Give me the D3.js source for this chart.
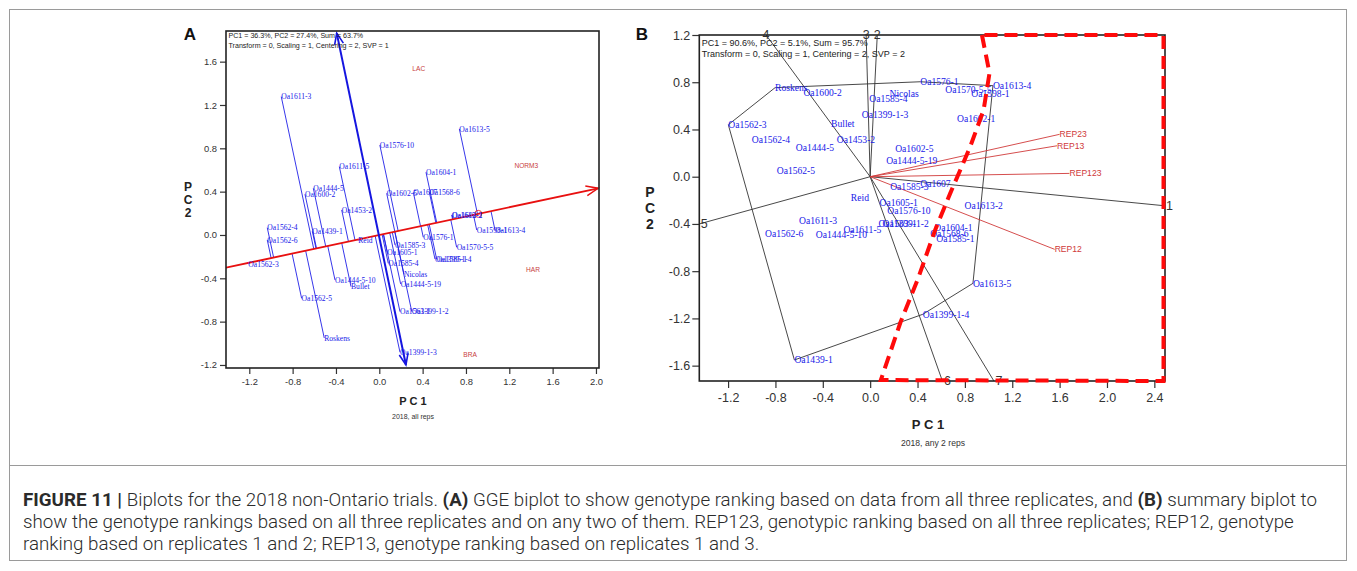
<!DOCTYPE html>
<html><head><meta charset="utf-8">
<script src="https://cdn.jsdelivr.net/npm/d3@7"></script>
<style>body{margin:0;background:#fff}svg{display:block}</style>
</head><body>
<svg id="c" width="1357" height="571"></svg>
<script>
// ================= DATA =================
// Panel A (GGE biplot, all reps)
const ticksA_x = [-1.2,-0.8,-0.4,0.0,0.4,0.8,1.2,1.6,2.0];
const ticksA_y = [-1.2,-0.8,-0.4,0.0,0.4,0.8,1.2,1.6];
const genoA_names = ["Oa1611-3","Oa1611-5","Oa1444-5","Oa1600-2","Oa1576-10","Oa1613-5","Oa1604-1","Oa1602-5","Oa1607","Oa1568-6",
  "Oa1453-2","Oa1562-4","Oa1562-6","Oa1439-1","Reid","Oa1562-3","Oa1444-5-10","Bullet","Oa1562-5","Roskens",
  "Oa1613-2","Oa1602-1","Oa1598-1","Oa1613-4","Oa1576-1","Oa1570-5-5","Oa1399-1-4","Oa1585-1","Oa1585-3","Oa1605-1",
  "Oa1585-4","Nicolas","Oa1444-5-19","Oa1399-1-2","Oa1563-1","Oa1399-1-3"];
const genoA_x = [-0.905,-0.369,-0.609,-0.686,0.005,0.739,0.431,0.068,0.314,0.462,
  -0.347,-1.034,-1.034,-0.618,-0.194,-1.209,-0.409,-0.261,-0.717,-0.508,
  0.668,0.674,0.899,1.068,0.406,0.714,0.514,0.53,0.145,0.074,
  0.083,0.228,0.197,0.300,0.191,0.191];
const genoA_y = [1.277,0.631,0.431,0.376,0.830,0.979,0.579,0.385,0.394,0.394,
  0.231,0.067,-0.046,0.034,-0.052,-0.268,-0.415,-0.477,-0.585,-0.951,
  0.185,0.180,0.046,0.046,-0.021,-0.114,-0.222,-0.226,-0.092,-0.163,
  -0.262,-0.363,-0.452,-0.708,-0.708,-1.083];
const envA_names = ["LAC","NORM3","HAR","BRA"];
const envA_x = [0.305,1.247,1.355,0.776];
const envA_y = [1.539,0.640,-0.323,-1.108];
const avgEnvA = [0.914,0.195];          // average-environment point (defines ATC axis)
const atcEndA = 2.02;                   // PC1 value where the ATC arrow ends
const ordinateA = [[-0.393,1.863],[0.246,-1.200]];
const infoA = ["PC1 = 36.3%, PC2 = 27.4%, Sum = 63.7%","Transform = 0, Scaling = 1, Centering = 2, SVP = 1"];
const subA = "2018, all reps";

// Panel B (summary biplot, any 2 reps)
const ticksB_x = [-1.2,-0.8,-0.4,0.0,0.4,0.8,1.2,1.6,2.0,2.4];
const ticksB_y = [-1.6,-1.2,-0.8,-0.4,0.0,0.4,0.8,1.2];
const genoB_names = ["Roskens","Oa1600-2","Oa1562-3","Oa1562-4","Oa1444-5","Oa1562-5","Bullet","Oa1453-2","Oa1585-4","Oa1399-1-3",
  "Oa1576-1","Oa1570-5-5","Oa1598-1","Oa1613-4","Nicolas","Oa1602-1","Oa1602-5","Oa1444-5-19","Oa1585-3","Oa1607",
  "Reid","Oa1605-1","Oa1576-10","Oa1611-3","Oa1562-6","Oa1444-5-10","Oa1611-5","Oa1563-1","Oa1399-1-2","Oa1604-1",
  "Oa1568-6","Oa1585-1","Oa1613-2","Oa1613-5","Oa1399-1-4","Oa1439-1"];
const genoB_x = [-0.803,-0.564,-1.198,-1.000,-0.628,-0.789,-0.330,-0.282,-0.008,-0.070,
  0.423,0.634,0.854,1.037,0.163,0.733,0.211,0.135,0.169,0.423,
  -0.163,0.079,0.145,-0.600,-0.888,-0.459,-0.226,0.070,0.104,0.541,
  0.507,0.558,0.797,0.868,0.445,-0.640];
const genoB_y = [0.754,0.711,0.440,0.311,0.249,0.051,0.449,0.311,0.658,0.528,
  0.804,0.740,0.706,0.771,0.706,0.494,0.234,0.136,-0.085,-0.062,
  -0.178,-0.220,-0.288,-0.375,-0.479,-0.494,-0.446,-0.395,-0.395,-0.429,
  -0.479,-0.522,-0.248,-0.903,-1.165,-1.552];
const hullB = ["Oa1562-3","Roskens","Oa1576-1","Oa1613-4","Oa1613-5","Oa1399-1-4","Oa1439-1"];
const sectorB_labels = ["1","2","3","4","5","6","7"];
const sectorB_x = [2.485,0.060,-0.034,-0.879,-1.443,0.610,1.045];
const sectorB_y = [-0.246,1.200,1.200,1.200,-0.400,-1.730,-1.730];
const repB_names = ["REP23","REP13","REP123","REP12"];
const repB_x = [1.600,1.578,1.683,1.558];
const repB_y = [0.359,0.262,0.028,-0.615];
const dashB_x = [0.944,1.008,0.958,0.845,0.676,0.549,0.406,0.254,0.090];
const dashB_y = [1.200,0.878,0.565,0.254,-0.141,-0.451,-0.858,-1.239,-1.722];
const infoB = ["PC1 = 90.6%, PC2 = 5.1%, Sum = 95.7%","Transform = 0, Scaling = 1, Centering = 2, SVP = 2"];
const subB = "2018, any 2 reps";

const captionLines = [
  [["FIGURE 11 | ",true],["Biplots for the 2018 non-Ontario trials. ",false],["(A)",true],[" GGE biplot to show genotype ranking based on data from all three replicates, and ",false],["(B)",true],[" summary biplot to",false]],
  [["show the genotype rankings based on all three replicates and on any two of them. REP123, genotypic ranking based on all three replicates; REP12, genotype",false]],
  [["ranking based on replicates 1 and 2; REP13, genotype ranking based on replicates 1 and 3.",false]]
];

// ================= DRAW =================
const svg = d3.select("#c");
svg.append("rect").attr("width",1357).attr("height",571).attr("fill","#fff");
const SANS = "'Liberation Sans', Arial, sans-serif";
const SERIF = "'Liberation Serif', 'Times New Roman', serif";
const BLUE = "#2020e8", RED = "#e81010", ENVRED = "#c84040";

// frame
svg.append("rect").attr("x",9.5).attr("y",9.5).attr("width",1337).attr("height",551)
  .attr("fill","none").attr("stroke","#9a9a9a").attr("stroke-width",1);
svg.append("line").attr("x1",9.5).attr("x2",1346.5).attr("y1",465.5).attr("y2",465.5)
  .attr("stroke","#9a9a9a").attr("stroke-width",1);

function chevron(g, tip, from, len, color, w){
  const ang = Math.atan2(tip[1]-from[1], tip[0]-from[0]);
  const a = 0.38;
  const p1 = [tip[0]-len*Math.cos(ang-a), tip[1]-len*Math.sin(ang-a)];
  const p2 = [tip[0]-len*Math.cos(ang+a), tip[1]-len*Math.sin(ang+a)];
  g.append("path").attr("d",`M${p1}L${tip}L${p2}`).attr("fill","none").attr("stroke",color).attr("stroke-width",w);
}

function axes(g, x, y, tx, ty, L, T, R, B, fs, tlen, padX, padY){
  const ax = g.append("g").attr("transform",`translate(0,${B})`)
    .call(d3.axisBottom(x).tickValues(tx).tickFormat(d=>d.toFixed(1)).tickSize(tlen).tickPadding(padX));
  const ay = g.append("g").attr("transform",`translate(${L},0)`)
    .call(d3.axisLeft(y).tickValues(ty).tickFormat(d=>d.toFixed(1)).tickSize(tlen).tickPadding(padY));
  [ax,ay].forEach(a=>{
    a.select(".domain").remove();
    a.selectAll("line").attr("stroke","#333").attr("stroke-width",1.2);
    a.selectAll("text").attr("fill","#333").style("font-family",SANS).style("font-size",fs+"px");
  });
  g.append("rect").attr("x",L).attr("y",T).attr("width",R-L).attr("height",B-T)
    .attr("fill","none").attr("stroke","#222").attr("stroke-width",1.6);
}

// ---------- Panel A ----------
const A = {L:226,R:599,T:31,B:368};
const xA = d3.scaleLinear().domain([-1.415,2.028]).range([A.L,A.R]);
const yA = d3.scaleLinear().domain([-1.228,1.883]).range([A.B,A.T]);
const gA = svg.append("g");
const clipA = svg.append("clipPath").attr("id","clipA");
clipA.append("rect").attr("x",A.L).attr("y",A.T).attr("width",A.R-A.L).attr("height",A.B-A.T);

const slope = avgEnvA[1]/avgEnvA[0];
const un = Math.hypot(1,slope), ux = 1/un, uy = slope/un;
const plotA = gA.append("g").attr("clip-path","url(#clipA)");
// projection lines
genoA_names.forEach((n,i)=>{
  const px = genoA_x[i], py = genoA_y[i];
  const d = px*ux + py*uy;
  plotA.append("line").attr("x1",xA(px)).attr("y1",yA(py)).attr("x2",xA(d*ux)).attr("y2",yA(d*uy))
    .attr("stroke",BLUE).attr("stroke-width",0.9);
});
// ATC abscissa
const x0 = -1.415;
plotA.append("line").attr("x1",xA(x0)).attr("y1",yA(x0*slope)).attr("x2",xA(atcEndA)).attr("y2",yA(atcEndA*slope))
  .attr("stroke",RED).attr("stroke-width",1.8);
chevron(gA,[xA(atcEndA),yA(atcEndA*slope)],[xA(0),yA(0)],13,RED,1.5);
plotA.append("circle").attr("cx",xA(avgEnvA[0])).attr("cy",yA(avgEnvA[1])).attr("r",3.5)
  .attr("fill","none").attr("stroke",RED).attr("stroke-width",0.8);
// ordinate
const o1=[xA(ordinateA[0][0]),yA(ordinateA[0][1])], o2=[xA(ordinateA[1][0]),yA(ordinateA[1][1])];
gA.append("line").attr("x1",o1[0]).attr("y1",o1[1]).attr("x2",o2[0]).attr("y2",o2[1])
  .attr("stroke","#1515e0").attr("stroke-width",2);
chevron(gA,o1,o2,12,"#1515e0",1.6);
chevron(gA,o2,o1,12,"#1515e0",1.6);
// labels
genoA_names.forEach((n,i)=>{
  gA.append("text").attr("x",xA(genoA_x[i])).attr("y",yA(genoA_y[i])).attr("dy","0.35em")
    .attr("fill",BLUE).style("font-family",SERIF).style("font-size","7.6px").text(n);
});
envA_names.forEach((n,i)=>{
  gA.append("text").attr("x",xA(envA_x[i])).attr("y",yA(envA_y[i])).attr("dy","0.35em")
    .attr("fill",ENVRED).style("font-family",SANS).style("font-size","6.6px").text(n);
});
infoA.forEach((t,i)=>{
  gA.append("text").attr("x",A.L+2.5).attr("y",36+i*9.3).attr("dy","0.35em").attr("fill","#222")
    .style("font-family",SANS).style("font-size","7.1px").text(t);
});
axes(gA,xA,yA,ticksA_x,ticksA_y,A.L,A.T,A.R,A.B,9.4,6,4,3);
gA.append("text").attr("x",413).attr("y",401.5).attr("dy","0.35em").attr("text-anchor","middle")
  .style("font-family",SANS).style("font-size","11px").style("font-weight","bold").attr("fill","#222").text("P C 1");
gA.append("text").attr("x",413).attr("y",417).attr("dy","0.35em").attr("text-anchor","middle")
  .style("font-family",SANS).style("font-size","7px").attr("fill","#333").text(subA);
["P","C","2"].forEach((c,i)=>gA.append("text").attr("x",188).attr("y",187+i*13).attr("dy","0.35em")
  .attr("text-anchor","middle").style("font-family",SANS).style("font-size","12px").style("font-weight","bold").attr("fill","#222").text(c));
gA.append("text").attr("x",190).attr("y",34).attr("dy","0.35em").attr("text-anchor","middle")
  .style("font-family",SANS).style("font-size","17px").style("font-weight","bold").attr("fill","#111").text("A");

// ---------- Panel B ----------
const Bp = {L:699.3,R:1165,T:35,B:381};
const xB = d3.scaleLinear().domain([-1.443,2.49]).range([Bp.L,Bp.R]);
const yB = d3.scaleLinear().domain([-1.73,1.2]).range([Bp.B,Bp.T]);
const gB = svg.append("g");
const idx = {}; genoB_names.forEach((n,i)=>idx[n]=i);
// hull
gB.append("path").attr("d", d3.line()(hullB.map(n=>[xB(genoB_x[idx[n]]),yB(genoB_y[idx[n]])]))+"Z")
  .attr("fill","none").attr("stroke","#333").attr("stroke-width",0.9);
// sector rays
sectorB_labels.forEach((s,i)=>{
  gB.append("line").attr("x1",xB(0)).attr("y1",yB(0)).attr("x2",xB(sectorB_x[i])).attr("y2",yB(sectorB_y[i]))
    .attr("stroke","#333").attr("stroke-width",0.9);
});
// REP vectors
repB_names.forEach((n,i)=>{
  gB.append("line").attr("x1",xB(0)).attr("y1",yB(0)).attr("x2",xB(repB_x[i])).attr("y2",yB(repB_y[i]))
    .attr("stroke","#d03a3a").attr("stroke-width",0.9);
  gB.append("text").attr("x",xB(repB_x[i])).attr("y",yB(repB_y[i])).attr("dy","0.35em")
    .attr("fill","#d03a3a").style("font-family",SANS).style("font-size","8.6px").text(n);
});
// genotype labels
genoB_names.forEach((n,i)=>{
  gB.append("text").attr("x",xB(genoB_x[i])).attr("y",yB(genoB_y[i])).attr("dy","0.35em")
    .attr("fill",BLUE).style("font-family",SERIF).style("font-size","9.6px").text(n);
});
infoB.forEach((t,i)=>{
  gB.append("text").attr("x",Bp.L+2.5).attr("y",42.7+i*11.3).attr("dy","0.35em").attr("fill","#222")
    .style("font-family",SANS).style("font-size","9px").text(t);
});
axes(gB,xB,yB,ticksB_x,ticksB_y,Bp.L,Bp.T,Bp.R,Bp.B,12.5,7,5,2);
// sector numbers
sectorB_labels.forEach((s,i)=>{
  const top = sectorB_y[i] >= 1.2;
  gB.append("text").attr("x",xB(sectorB_x[i]) + (top?0:1.5)).attr("y",yB(sectorB_y[i])).attr("dy","0.35em")
    .attr("text-anchor",top?"middle":"start").attr("fill","#333")
    .style("font-family",SANS).style("font-size","12.5px").text(s);
});
// red dashed region
const dashPts = dashB_x.map((v,i)=>[xB(v),yB(dashB_y[i])]);
dashPts.push([xB(2.49)-1.5,yB(-1.73)]); dashPts.push([xB(2.49)-1.5,yB(1.2)]);
gB.append("path").attr("d", d3.line()(dashPts)+"Z").attr("fill","none").attr("stroke","#ff0a0a")
  .attr("stroke-width",4).attr("stroke-dasharray","13,7");
gB.append("text").attr("x",928).attr("y",424).attr("dy","0.35em").attr("text-anchor","middle")
  .style("font-family",SANS).style("font-size","13px").style("font-weight","bold").attr("fill","#222").text("P C 1");
gB.append("text").attr("x",933).attr("y",443).attr("dy","0.35em").attr("text-anchor","middle")
  .style("font-family",SANS).style("font-size","8.6px").attr("fill","#333").text(subB);
["P","C","2"].forEach((c,i)=>gB.append("text").attr("x",650).attr("y",192+i*16).attr("dy","0.35em")
  .attr("text-anchor","middle").style("font-family",SANS).style("font-size","14px").style("font-weight","bold").attr("fill","#222").text(c));
gB.append("text").attr("x",642).attr("y",34).attr("dy","0.35em").attr("text-anchor","middle")
  .style("font-family",SANS).style("font-size","17px").style("font-weight","bold").attr("fill","#111").text("B");

// ---------- Caption ----------
const capG = svg.append("g");
const capTexts = captionLines.map((parts,li)=>{
  const t = capG.append("text").attr("x",23).attr("y",499+li*22).attr("dy","0.35em").attr("fill","#2b2b2b")
    .style("font-family","Roboto, 'Liberation Sans', sans-serif").style("font-size","15px").style("font-weight","300");
  parts.forEach(p=>t.append("tspan").style("font-weight",p[1]?"bold":"300").text(p[0]));
  return t;
});
const w1 = capTexts[0].node().getComputedTextLength();
const fs = 15*1295/w1;
capTexts.forEach(t=>t.style("font-size",fs.toFixed(2)+"px"));
</script>
</body></html>
